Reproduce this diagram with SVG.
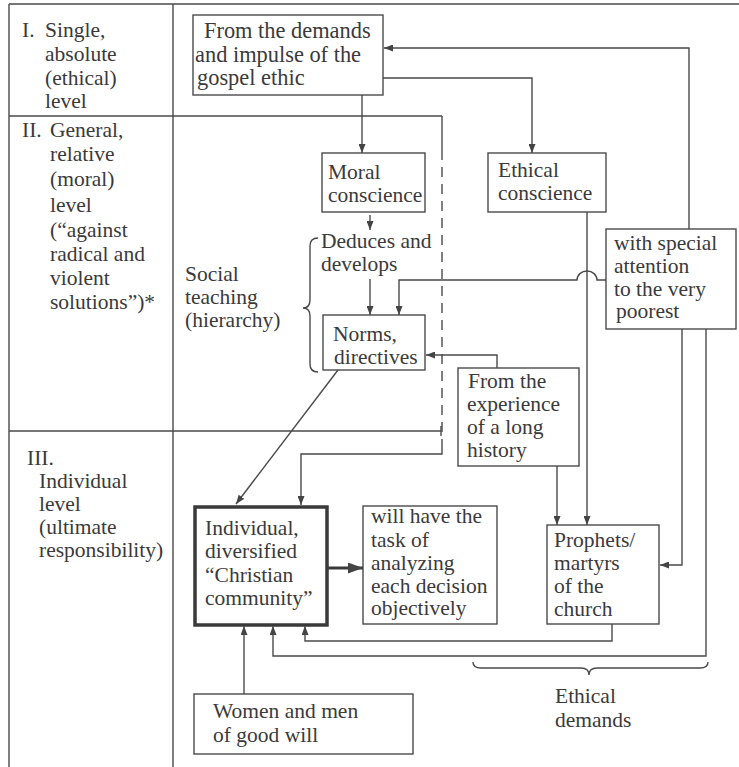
<svg xmlns="http://www.w3.org/2000/svg" width="739" height="767" viewBox="0 0 739 767" font-family="'Liberation Serif', 'Times New Roman', Times, 'DejaVu Serif', serif">
<defs>
<marker id="ah" markerUnits="userSpaceOnUse" markerWidth="9" markerHeight="7" refX="9" refY="3.5" orient="auto"><path d="M0,0 L9,3.5 L0,7 z" fill="#444"/></marker>
<marker id="ahb" markerUnits="userSpaceOnUse" markerWidth="15" markerHeight="11" refX="15" refY="5.5" orient="auto"><path d="M0,0 L15,5.5 L0,11 z" fill="#444"/></marker>
</defs>
<style>
text{font-size:21.5px;fill:#3a3a3a}
.big{font-size:22.4px}
.box{fill:none;stroke:#4a4a4a;stroke-width:1.4}
.thick{fill:none;stroke:#3a3a3a;stroke-width:3.5}
.ln{fill:none;stroke:#4a4a4a;stroke-width:1.4}
.arr{fill:none;stroke:#4a4a4a;stroke-width:1.4;marker-end:url(#ah)}
.dash{fill:none;stroke:#4a4a4a;stroke-width:1.4;stroke-dasharray:10 7}
</style>
<rect width="739" height="767" fill="#fff"/>
<g id="grid">
<path class="ln" d="M9,4 H739 M9,4 V767 M173,4 V767 M9,116 H442 M9,431 H441 M441,426 V436"/>
</g>
<g id="levels" font-family="Liberation Serif, serif">
<text x="22" y="37">I.</text><text x="45" y="37">Single,</text>
<text x="45" y="61">absolute</text>
<text x="45" y="85">(ethical)</text>
<text x="45" y="108">level</text>
<text x="22" y="137">II.</text><text x="50" y="137">General,</text>
<text x="50" y="161">relative</text>
<text x="50" y="186">(moral)</text>
<text x="50" y="212">level</text>
<text x="50" y="237">(“against</text>
<text x="50" y="261">radical and</text>
<text x="50" y="285">violent</text>
<text x="50" y="309">solutions”)*</text>
<text x="27" y="465">III.</text>
<text x="39" y="488">Individual</text>
<text x="39" y="511">level</text>
<text x="39" y="534">(ultimate</text>
<text x="39" y="557">responsibility)</text>
</g>
<g id="social-teaching">
<text x="185" y="281">Social</text>
<text x="185" y="304">teaching</text>
<text x="185" y="327">(hierarchy)</text>
<path class="ln" d="M318,238 Q310,238 310,246 V300 Q310,308 303,308 Q310,308 310,316 V364 Q310,372 318,372"/>
</g>
<g id="gospel">
<rect class="box" x="193" y="15" width="190" height="80"/>
<text class="big" x="204" y="37.5">From the demands</text>
<text class="big" x="195" y="61.5">and impulse of the</text>
<text class="big" x="197" y="85">gospel ethic</text>
</g>
<g id="moral">
<rect class="box" x="322" y="153" width="103" height="59"/>
<text x="328" y="179">Moral</text>
<text x="328" y="202">conscience</text>
</g>
<g id="deduces">
<text x="321" y="248">Deduces and</text>
<text x="321" y="271">develops</text>
</g>
<g id="norms">
<rect class="box" x="323" y="315" width="102" height="55"/>
<text x="333" y="341">Norms,</text>
<text x="334" y="363.5">directives</text>
</g>
<g id="ethical">
<rect class="box" x="488" y="153" width="118" height="59"/>
<text x="498" y="177">Ethical</text>
<text x="498" y="200">conscience</text>
</g>
<g id="poorest">
<rect class="box" x="606" y="229" width="130" height="100"/>
<text x="614" y="250">with special</text>
<text x="614" y="273">attention</text>
<text x="614" y="296">to the very</text>
<text x="616" y="318">poorest</text>
</g>
<g id="experience">
<rect class="box" x="458" y="368" width="121" height="98"/>
<text x="468" y="388">From the</text>
<text x="467" y="411">experience</text>
<text x="467" y="434">of a long</text>
<text x="467" y="457">history</text>
</g>
<g id="prophets">
<rect class="box" x="547" y="525" width="112" height="99"/>
<text x="554" y="547">Prophets/</text>
<text x="554" y="570">martyrs</text>
<text x="554" y="593">of the</text>
<text x="554" y="616">church</text>
</g>
<g id="community">
<rect class="thick" x="195" y="507" width="132" height="118"/>
<text x="205" y="535">Individual,</text>
<text x="205" y="558">diversified</text>
<text x="205" y="582">“Christian</text>
<text x="205" y="605">community”</text>
</g>
<g id="task">
<rect class="box" x="363" y="506" width="134" height="118"/>
<text x="371" y="523">will have the</text>
<text x="371" y="547">task of</text>
<text x="371" y="570">analyzing</text>
<text x="371" y="593">each decision</text>
<text x="371" y="615">objectively</text>
</g>
<g id="goodwill">
<rect class="box" x="194" y="694" width="219" height="60"/>
<text x="213" y="718">Women and men</text>
<text x="213" y="741.5">of good will</text>
</g>
<g id="ethical-demands">
<path class="ln" d="M473,662 Q473,668 481,668 H581 Q589,668 589,675 Q589,668 597,668 H700 Q708,668 708,662"/>
<text x="555" y="703">Ethical</text>
<text x="555" y="726.5">demands</text>
</g>
<g id="connectors">
<path class="arr" d="M362,95 V153"/>
<path class="arr" d="M383,78 H532 V153"/>
<path class="arr" d="M689,229 V48 H384"/>
<path class="arr" d="M370,215 V230"/>
<path class="arr" d="M370,279 V315"/>
<path class="arr" d="M606,280 H597 A10,9 0 0 0 577,280 H399 V315"/>
<path class="arr" d="M497,368 V355 H426"/>
<path class="arr" d="M587,212 V525"/>
<path class="arr" d="M557,466 V525"/>
<path class="arr" d="M682,329 V565 H660"/>
<path class="arr" d="M706,329 V656 H273 V626"/>
<path class="arr" d="M612,624 V641 H305 V626"/>
<path class="arr" d="M244,694 V626"/>
<path class="arr" d="M338,370 L236,504"/>
<path class="ln" d="M442,116 V160"/>
<path class="dash" d="M442,167 V446"/>
<path class="arr" d="M442,446 V454 H301 V505"/>
<path d="M327,568 H363" fill="none" stroke="#3a3a3a" stroke-width="3" marker-end="url(#ahb)"/>
</g>
</svg>
